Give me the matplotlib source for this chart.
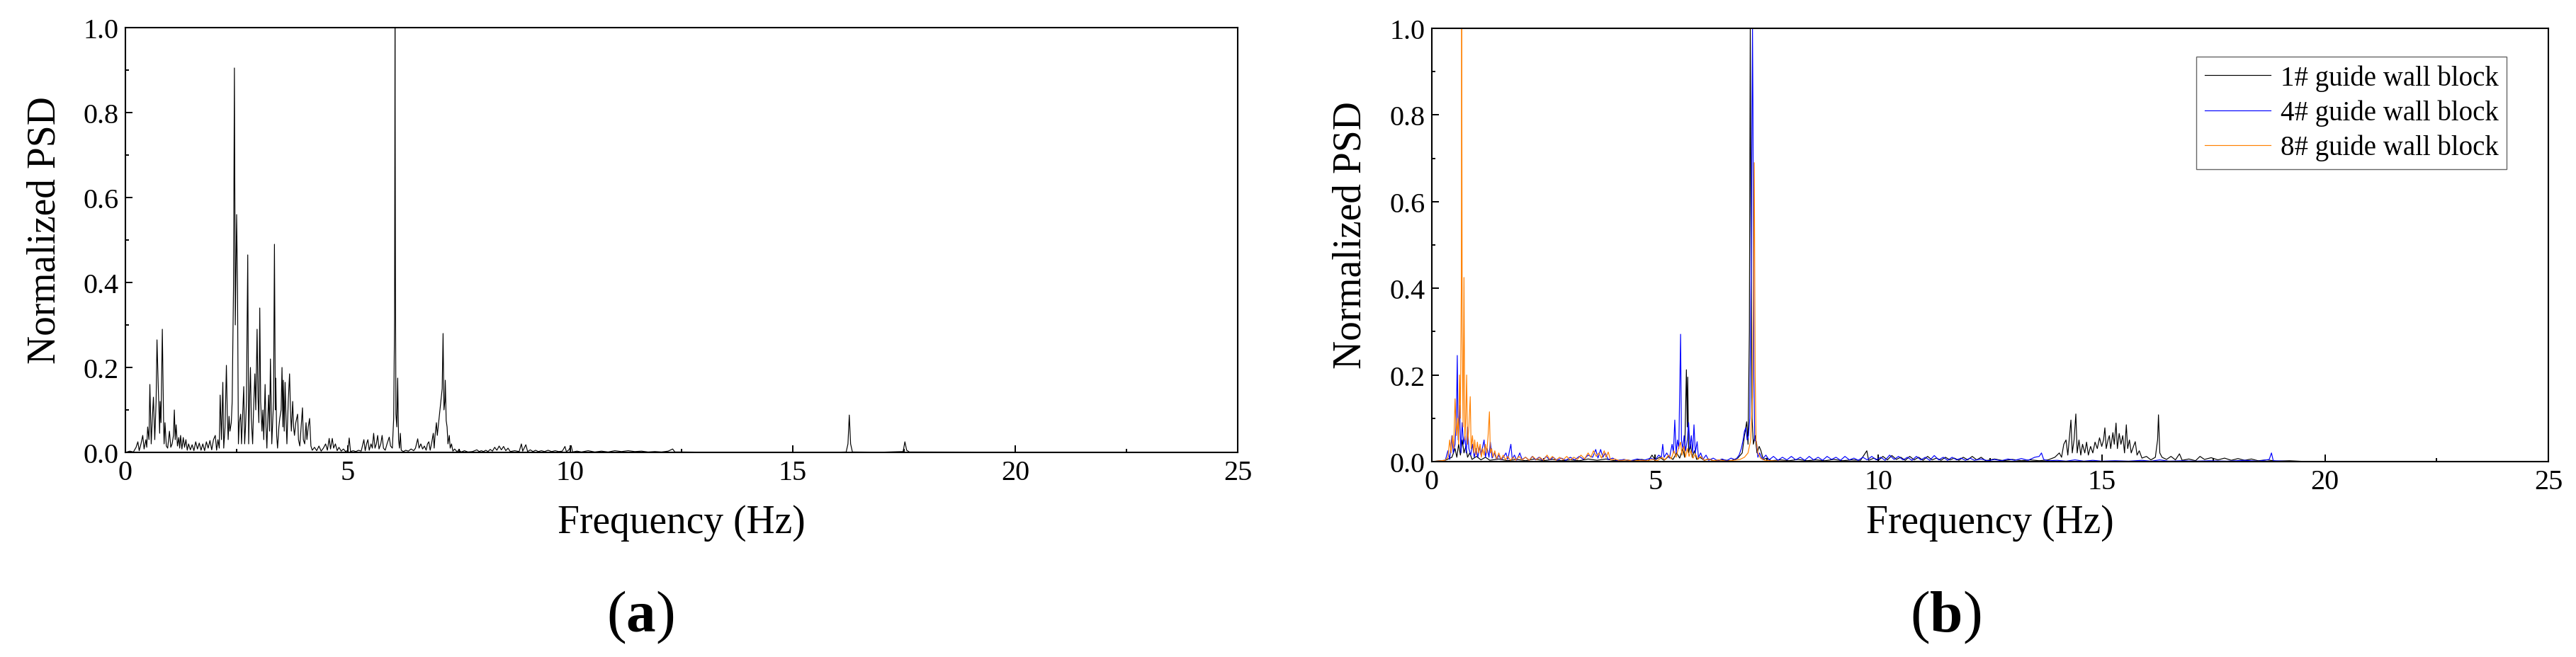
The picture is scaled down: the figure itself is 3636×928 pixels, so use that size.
import matplotlib
matplotlib.use("Agg")
import matplotlib.pyplot as plt
import numpy as np
from matplotlib.ticker import MultipleLocator

plt.rcParams["font.family"] = ["Liberation Serif", "DejaVu Serif"]
plt.rcParams["mathtext.fontset"] = "custom"
plt.rcParams["mathtext.rm"] = "Liberation Serif"
plt.rcParams["mathtext.bf"] = "Liberation Serif:bold"

# (frequency Hz, normalized PSD)
psd_a = [
    (0.00, 0.0), (0.10, 0.003), (0.18, 0.001), (0.24, 0.012), (0.28, 0.025), (0.31, 0.004), (0.35, 0.02),
    (0.39, 0.04), (0.42, 0.008), (0.46, 0.03), (0.48, 0.012), (0.50, 0.06), (0.53, 0.03), (0.55, 0.16),
    (0.58, 0.02), (0.61, 0.09), (0.63, 0.13), (0.66, 0.03), (0.69, 0.12), (0.71, 0.265), (0.74, 0.15),
    (0.77, 0.045), (0.78, 0.12), (0.80, 0.07), (0.83, 0.29), (0.86, 0.06), (0.87, 0.02), (0.89, 0.07),
    (0.92, 0.015), (0.95, 0.01), (0.97, 0.03), (0.99, 0.05), (1.02, 0.012), (1.05, 0.02), (1.08, 0.04),
    (1.10, 0.10), (1.12, 0.03), (1.14, 0.065), (1.17, 0.015), (1.20, 0.035), (1.22, 0.01), (1.24, 0.04),
    (1.27, 0.008), (1.30, 0.035), (1.33, 0.012), (1.36, 0.03), (1.39, 0.005), (1.42, 0.02), (1.46, 0.006),
    (1.50, 0.018), (1.54, 0.004), (1.58, 0.025), (1.62, 0.008), (1.66, 0.022), (1.70, 0.005), (1.74, 0.02),
    (1.78, 0.004), (1.82, 0.025), (1.86, 0.01), (1.90, 0.028), (1.94, 0.006), (1.98, 0.03), (2.02, 0.04),
    (2.05, 0.005), (2.08, 0.03), (2.11, 0.01), (2.13, 0.135), (2.16, 0.03), (2.19, 0.165), (2.21, 0.01),
    (2.24, 0.06), (2.27, 0.205), (2.29, 0.09), (2.31, 0.03), (2.33, 0.085), (2.35, 0.05), (2.38, 0.07),
    (2.40, 0.12), (2.43, 0.39), (2.45, 0.905), (2.47, 0.3), (2.50, 0.56), (2.52, 0.385), (2.54, 0.02),
    (2.56, 0.07), (2.59, 0.09), (2.61, 0.02), (2.63, 0.075), (2.66, 0.155), (2.68, 0.02), (2.70, 0.06),
    (2.72, 0.12), (2.75, 0.465), (2.77, 0.02), (2.79, 0.12), (2.81, 0.2), (2.83, 0.08), (2.86, 0.02),
    (2.88, 0.1), (2.91, 0.185), (2.93, 0.1), (2.96, 0.29), (2.98, 0.13), (3.00, 0.07), (3.02, 0.34),
    (3.04, 0.12), (3.07, 0.05), (3.09, 0.1), (3.11, 0.03), (3.14, 0.16), (3.16, 0.06), (3.18, 0.01),
    (3.20, 0.08), (3.22, 0.135), (3.24, 0.05), (3.26, 0.22), (3.29, 0.02), (3.31, 0.07), (3.33, 0.12),
    (3.35, 0.49), (3.37, 0.1), (3.38, 0.175), (3.40, 0.04), (3.42, 0.01), (3.45, 0.06), (3.47, 0.08),
    (3.50, 0.1), (3.52, 0.2), (3.54, 0.06), (3.55, 0.17), (3.57, 0.05), (3.59, 0.165), (3.61, 0.08),
    (3.63, 0.02), (3.66, 0.12), (3.69, 0.185), (3.71, 0.1), (3.73, 0.05), (3.76, 0.12), (3.78, 0.06),
    (3.80, 0.04), (3.83, 0.07), (3.87, 0.09), (3.89, 0.03), (3.92, 0.015), (3.95, 0.06), (3.98, 0.105),
    (4.00, 0.03), (4.03, 0.02), (4.06, 0.07), (4.08, 0.03), (4.11, 0.06), (4.14, 0.08), (4.17, 0.015),
    (4.20, 0.005), (4.25, 0.012), (4.30, 0.004), (4.35, 0.015), (4.40, 0.003), (4.45, 0.01), (4.50, 0.02),
    (4.54, 0.005), (4.58, 0.033), (4.61, 0.008), (4.65, 0.033), (4.68, 0.01), (4.72, 0.02), (4.76, 0.004),
    (4.80, 0.012), (4.85, 0.003), (4.90, 0.008), (4.95, 0.002), (5.00, 0.005), (5.03, 0.034), (5.06, 0.002),
    (5.12, 0.004), (5.18, 0.002), (5.24, 0.005), (5.30, 0.003), (5.36, 0.03), (5.39, 0.004), (5.42, 0.02),
    (5.45, 0.03), (5.48, 0.005), (5.52, 0.02), (5.55, 0.01), (5.58, 0.045), (5.61, 0.01), (5.64, 0.02),
    (5.67, 0.04), (5.70, 0.008), (5.74, 0.02), (5.77, 0.04), (5.80, 0.01), (5.84, 0.005), (5.88, 0.02),
    (5.93, 0.036), (5.96, 0.015), (6.00, 0.01), (6.03, 0.08), (6.05, 0.315), (6.06, 1.0), (6.07, 0.4),
    (6.08, 0.09), (6.10, 0.06), (6.12, 0.175), (6.14, 0.03), (6.16, 0.01), (6.18, 0.045), (6.20, 0.005),
    (6.25, 0.002), (6.30, 0.005), (6.36, 0.003), (6.42, 0.008), (6.48, 0.004), (6.52, 0.01), (6.57, 0.032),
    (6.60, 0.01), (6.64, 0.02), (6.68, 0.008), (6.72, 0.015), (6.76, 0.005), (6.79, 0.02), (6.82, 0.025),
    (6.85, 0.005), (6.88, 0.02), (6.92, 0.045), (6.94, 0.01), (6.96, 0.04), (6.99, 0.07), (7.01, 0.04),
    (7.03, 0.06), (7.05, 0.08), (7.07, 0.1), (7.10, 0.13), (7.12, 0.15), (7.14, 0.28), (7.16, 0.1),
    (7.18, 0.12), (7.19, 0.17), (7.21, 0.075), (7.23, 0.06), (7.25, 0.02), (7.28, 0.04), (7.30, 0.01),
    (7.33, 0.02), (7.36, 0.003), (7.40, 0.008), (7.45, 0.002), (7.50, 0.005), (7.55, 0.001), (7.62, 0.004),
    (7.70, 0.001), (7.80, 0.002), (7.90, 0.006), (7.95, 0.002), (8.00, 0.004), (8.05, 0.002), (8.10, 0.005),
    (8.15, 0.002), (8.20, 0.007), (8.25, 0.003), (8.30, 0.012), (8.35, 0.005), (8.40, 0.015), (8.45, 0.006),
    (8.50, 0.014), (8.55, 0.004), (8.60, 0.01), (8.65, 0.002), (8.75, 0.004), (8.85, 0.002), (8.90, 0.02),
    (8.93, 0.003), (9.00, 0.018), (9.04, 0.002), (9.10, 0.006), (9.16, 0.002), (9.22, 0.005), (9.28, 0.002),
    (9.35, 0.004), (9.42, 0.002), (9.50, 0.005), (9.58, 0.002), (9.66, 0.004), (9.74, 0.002), (9.82, 0.003),
    (9.88, 0.014), (9.91, 0.002), (9.96, 0.005), (10.02, 0.016), (10.05, 0.001), (10.15, 0.003),
    (10.25, 0.001), (10.40, 0.004), (10.55, 0.001), (10.70, 0.003), (10.85, 0.001), (11.00, 0.004),
    (11.15, 0.002), (11.30, 0.004), (11.45, 0.002), (11.60, 0.003), (11.75, 0.001), (11.90, 0.002),
    (12.05, 0.001), (12.20, 0.003), (12.30, 0.008), (12.35, 0.001), (12.50, 0.001), (13.00, 0.0005),
    (14.00, 0.0005), (15.00, 0.0005), (16.00, 0.0005), (16.20, 0.001), (16.24, 0.02), (16.27, 0.088),
    (16.30, 0.02), (16.34, 0.001), (17.00, 0.0005), (17.48, 0.002), (17.52, 0.025), (17.56, 0.005),
    (17.62, 0.001), (20.0, 0.0005), (25.0, 0.0005),
]

psd_block1 = [
    (0.0, 0.0), (0.3, 0.003), (0.45, 0.01), (0.52, 0.03), (0.56, 0.01), (0.6, 0.04), (0.64, 0.015),
    (0.68, 0.05), (0.72, 0.02), (0.76, 0.035), (0.8, 0.01), (0.85, 0.02), (0.9, 0.005), (1.0, 0.012),
    (1.1, 0.004), (1.2, 0.01), (1.3, 0.003), (1.5, 0.006), (1.7, 0.002), (1.9, 0.005), (2.1, 0.002),
    (2.3, 0.006), (2.5, 0.002), (2.7, 0.005), (2.9, 0.002), (3.1, 0.004), (3.3, 0.002), (3.5, 0.006),
    (3.7, 0.003), (3.9, 0.006), (4.1, 0.002), (4.3, 0.004), (4.5, 0.002), (4.7, 0.005), (4.85, 0.002),
    (4.93, 0.015), (5.0, 0.004), (5.1, 0.01), (5.2, 0.003), (5.3, 0.012), (5.4, 0.005), (5.48, 0.02),
    (5.55, 0.008), (5.62, 0.03), (5.66, 0.01), (5.70, 0.212), (5.72, 0.08), (5.73, 0.195), (5.75, 0.02),
    (5.79, 0.04), (5.83, 0.01), (5.88, 0.025), (5.93, 0.005), (6.0, 0.01), (6.1, 0.003), (6.2, 0.006),
    (6.3, 0.002), (6.5, 0.004), (6.7, 0.002), (6.85, 0.008), (6.95, 0.02), (7.0, 0.06), (7.05, 0.092),
    (7.08, 0.04), (7.11, 0.3), (7.13, 1.0), (7.15, 0.45), (7.17, 0.1), (7.2, 0.04), (7.24, 0.06),
    (7.28, 0.02), (7.33, 0.035), (7.37, 0.025), (7.42, 0.005), (7.5, 0.008), (7.6, 0.002), (7.8, 0.004),
    (8.0, 0.002), (8.2, 0.005), (8.4, 0.002), (8.6, 0.004), (8.8, 0.002), (9.0, 0.005), (9.2, 0.002),
    (9.4, 0.004), (9.6, 0.003), (9.74, 0.025), (9.78, 0.003), (9.9, 0.008), (10.0, 0.003), (10.1, 0.012),
    (10.2, 0.004), (10.3, 0.014), (10.4, 0.005), (10.5, 0.01), (10.6, 0.003), (10.7, 0.012), (10.8, 0.004),
    (10.9, 0.01), (11.0, 0.003), (11.1, 0.012), (11.2, 0.004), (11.3, 0.008), (11.4, 0.003), (11.5, 0.01),
    (11.6, 0.004), (11.7, 0.008), (11.8, 0.003), (11.9, 0.01), (12.0, 0.004), (12.1, 0.012), (12.2, 0.004),
    (12.3, 0.01), (12.4, 0.002), (12.6, 0.006), (12.8, 0.002), (13.0, 0.005), (13.2, 0.002), (13.4, 0.004),
    (13.6, 0.002), (13.8, 0.004), (13.95, 0.01), (14.05, 0.02), (14.1, 0.01), (14.15, 0.04), (14.2, 0.05),
    (14.24, 0.015), (14.28, 0.06), (14.31, 0.096), (14.34, 0.02), (14.38, 0.05), (14.42, 0.11),
    (14.45, 0.02), (14.49, 0.05), (14.53, 0.015), (14.57, 0.04), (14.62, 0.02), (14.66, 0.045),
    (14.7, 0.015), (14.75, 0.035), (14.8, 0.02), (14.85, 0.045), (14.9, 0.03), (14.95, 0.055), (15.0, 0.035),
    (15.04, 0.05), (15.07, 0.078), (15.1, 0.03), (15.14, 0.05), (15.17, 0.06), (15.2, 0.03), (15.25, 0.067),
    (15.28, 0.04), (15.32, 0.089), (15.35, 0.03), (15.39, 0.065), (15.43, 0.04), (15.47, 0.06),
    (15.51, 0.02), (15.55, 0.085), (15.58, 0.03), (15.62, 0.05), (15.66, 0.02), (15.71, 0.035),
    (15.75, 0.046), (15.79, 0.015), (15.84, 0.025), (15.9, 0.008), (16.0, 0.012), (16.1, 0.004),
    (16.2, 0.01), (16.25, 0.05), (16.27, 0.108), (16.3, 0.02), (16.35, 0.01), (16.45, 0.005), (16.55, 0.012),
    (16.65, 0.004), (16.74, 0.018), (16.8, 0.003), (16.95, 0.006), (17.1, 0.002), (17.2, 0.012),
    (17.3, 0.005), (17.45, 0.009), (17.6, 0.004), (17.75, 0.008), (17.9, 0.003), (18.05, 0.007),
    (18.2, 0.003), (18.35, 0.006), (18.5, 0.002), (18.7, 0.004), (18.9, 0.001), (19.2, 0.002),
    (19.5, 0.0005), (25.0, 0.0005),
]

psd_block4 = [
    (0.0, 0.0), (0.3, 0.002), (0.36, 0.025), (0.4, 0.005), (0.45, 0.06), (0.48, 0.02), (0.52, 0.04),
    (0.55, 0.1), (0.57, 0.245), (0.59, 0.05), (0.62, 0.13), (0.65, 0.02), (0.68, 0.09), (0.71, 0.04),
    (0.74, 0.06), (0.77, 0.02), (0.8, 0.08), (0.83, 0.03), (0.87, 0.015), (0.91, 0.04), (0.95, 0.01),
    (0.99, 0.03), (1.03, 0.01), (1.07, 0.035), (1.1, 0.015), (1.13, 0.03), (1.17, 0.05), (1.2, 0.01),
    (1.24, 0.03), (1.28, 0.01), (1.31, 0.045), (1.35, 0.008), (1.4, 0.02), (1.45, 0.005), (1.5, 0.015),
    (1.55, 0.004), (1.6, 0.01), (1.66, 0.02), (1.7, 0.005), (1.77, 0.04), (1.8, 0.006), (1.85, 0.015),
    (1.9, 0.003), (1.97, 0.02), (2.02, 0.005), (2.1, 0.01), (2.18, 0.003), (2.25, 0.012), (2.32, 0.004),
    (2.4, 0.01), (2.48, 0.003), (2.56, 0.012), (2.64, 0.004), (2.72, 0.01), (2.8, 0.003), (2.9, 0.008),
    (3.0, 0.003), (3.1, 0.01), (3.2, 0.004), (3.3, 0.012), (3.4, 0.005), (3.5, 0.015), (3.6, 0.01),
    (3.67, 0.028), (3.72, 0.008), (3.78, 0.028), (3.83, 0.01), (3.88, 0.02), (3.95, 0.005), (4.05, 0.008),
    (4.15, 0.002), (4.3, 0.005), (4.45, 0.002), (4.6, 0.006), (4.75, 0.003), (4.9, 0.008), (5.0, 0.004),
    (5.08, 0.015), (5.14, 0.01), (5.17, 0.04), (5.2, 0.01), (5.26, 0.02), (5.32, 0.008), (5.38, 0.04),
    (5.41, 0.02), (5.44, 0.096), (5.47, 0.02), (5.5, 0.05), (5.53, 0.03), (5.57, 0.294), (5.59, 0.05),
    (5.62, 0.03), (5.65, 0.06), (5.68, 0.025), (5.72, 0.05), (5.75, 0.09), (5.78, 0.03), (5.81, 0.06),
    (5.84, 0.02), (5.87, 0.085), (5.9, 0.02), (5.94, 0.046), (5.97, 0.01), (6.02, 0.02), (6.07, 0.005),
    (6.14, 0.015), (6.2, 0.003), (6.3, 0.008), (6.4, 0.002), (6.5, 0.006), (6.6, 0.002), (6.7, 0.008),
    (6.8, 0.004), (6.88, 0.015), (6.93, 0.03), (6.97, 0.05), (7.0, 0.07), (7.03, 0.078), (7.06, 0.05),
    (7.09, 0.06), (7.12, 0.1), (7.15, 0.45), (7.18, 1.0), (7.19, 0.83), (7.21, 0.2), (7.23, 0.05),
    (7.27, 0.046), (7.3, 0.01), (7.34, 0.02), (7.4, 0.005), (7.48, 0.015), (7.55, 0.004), (7.65, 0.012),
    (7.75, 0.003), (7.85, 0.01), (7.95, 0.004), (8.05, 0.012), (8.15, 0.004), (8.25, 0.01), (8.35, 0.003),
    (8.45, 0.012), (8.55, 0.004), (8.65, 0.01), (8.75, 0.003), (8.85, 0.012), (8.95, 0.005), (9.05, 0.01),
    (9.15, 0.003), (9.25, 0.012), (9.35, 0.004), (9.45, 0.008), (9.55, 0.003), (9.65, 0.01), (9.75, 0.004),
    (9.85, 0.012), (9.95, 0.004), (10.05, 0.01), (10.15, 0.003), (10.25, 0.015), (10.35, 0.005),
    (10.45, 0.012), (10.55, 0.004), (10.65, 0.01), (10.75, 0.003), (10.85, 0.012), (10.95, 0.004),
    (11.05, 0.01), (11.15, 0.003), (11.25, 0.014), (11.35, 0.004), (11.45, 0.01), (11.55, 0.003),
    (11.65, 0.01), (11.75, 0.004), (11.85, 0.008), (11.95, 0.003), (12.05, 0.008), (12.15, 0.003),
    (12.3, 0.006), (12.45, 0.002), (12.6, 0.005), (12.75, 0.002), (12.9, 0.006), (13.05, 0.003),
    (13.2, 0.007), (13.35, 0.003), (13.5, 0.01), (13.6, 0.012), (13.65, 0.02), (13.7, 0.005), (13.8, 0.002),
    (14.0, 0.003), (14.2, 0.001), (14.4, 0.004), (14.6, 0.001), (14.8, 0.003), (15.0, 0.001), (15.3, 0.002),
    (15.6, 0.001), (15.9, 0.003), (16.1, 0.001), (16.3, 0.004), (16.5, 0.001), (16.8, 0.002), (17.1, 0.001),
    (17.4, 0.002), (17.8, 0.001), (18.2, 0.003), (18.5, 0.001), (18.75, 0.005), (18.8, 0.02),
    (18.84, 0.002), (19.2, 0.0005), (25.0, 0.0005),
]

psd_block8 = [
    (0.0, 0.0), (0.3, 0.003), (0.36, 0.01), (0.4, 0.05), (0.43, 0.02), (0.46, 0.06), (0.49, 0.03),
    (0.52, 0.145), (0.55, 0.06), (0.58, 0.1), (0.6, 0.04), (0.62, 0.2), (0.64, 0.1), (0.66, 0.4),
    (0.67, 1.0), (0.68, 0.3), (0.7, 0.08), (0.72, 0.425), (0.74, 0.05), (0.76, 0.1), (0.78, 0.2),
    (0.8, 0.04), (0.83, 0.08), (0.86, 0.15), (0.88, 0.03), (0.91, 0.06), (0.94, 0.02), (0.96, 0.05),
    (0.99, 0.015), (1.02, 0.045), (1.05, 0.02), (1.08, 0.04), (1.11, 0.01), (1.14, 0.03), (1.17, 0.015),
    (1.2, 0.04), (1.23, 0.02), (1.26, 0.06), (1.29, 0.115), (1.31, 0.02), (1.34, 0.03), (1.37, 0.01),
    (1.41, 0.025), (1.45, 0.006), (1.5, 0.02), (1.55, 0.005), (1.6, 0.015), (1.65, 0.004), (1.7, 0.012),
    (1.76, 0.003), (1.82, 0.01), (1.88, 0.003), (1.95, 0.012), (2.02, 0.004), (2.1, 0.01), (2.18, 0.003),
    (2.26, 0.012), (2.34, 0.004), (2.42, 0.01), (2.5, 0.003), (2.58, 0.015), (2.64, 0.005), (2.7, 0.012),
    (2.78, 0.003), (2.86, 0.01), (2.94, 0.004), (3.02, 0.012), (3.1, 0.004), (3.18, 0.01), (3.26, 0.005),
    (3.34, 0.015), (3.42, 0.006), (3.5, 0.02), (3.56, 0.01), (3.62, 0.025), (3.68, 0.012), (3.74, 0.02),
    (3.8, 0.008), (3.86, 0.025), (3.9, 0.01), (3.95, 0.022), (4.0, 0.004), (4.1, 0.006), (4.2, 0.002),
    (4.35, 0.004), (4.5, 0.001), (4.65, 0.003), (4.8, 0.002), (4.95, 0.005), (5.05, 0.002), (5.15, 0.01),
    (5.22, 0.004), (5.3, 0.015), (5.36, 0.006), (5.42, 0.025), (5.47, 0.01), (5.52, 0.03), (5.57, 0.045),
    (5.6, 0.015), (5.64, 0.035), (5.68, 0.01), (5.72, 0.03), (5.76, 0.012), (5.8, 0.025), (5.85, 0.008),
    (5.9, 0.018), (5.96, 0.005), (6.02, 0.012), (6.1, 0.003), (6.2, 0.006), (6.3, 0.002), (6.45, 0.004),
    (6.6, 0.001), (6.75, 0.003), (6.9, 0.005), (7.0, 0.01), (7.08, 0.02), (7.14, 0.05), (7.18, 0.15),
    (7.2, 0.4), (7.22, 0.69), (7.24, 0.2), (7.26, 0.05), (7.3, 0.02), (7.36, 0.008), (7.45, 0.003),
    (7.6, 0.002), (7.8, 0.001), (8.2, 0.0005), (25.0, 0.0005),
]

series_b = [
    ("1# guide wall block", psd_block1, "black"),
    ("4# guide wall block", psd_block4, "#0000ff"),
    ("8# guide wall block", psd_block8, "#ff8000"),
]


def style_axes(ax):
    ax.set_xlim(0, 25)
    ax.set_ylim(0, 1.0)
    ax.xaxis.set_major_locator(MultipleLocator(5))
    ax.xaxis.set_minor_locator(MultipleLocator(2.5))
    ax.yaxis.set_major_locator(MultipleLocator(0.2))
    ax.yaxis.set_minor_locator(MultipleLocator(0.1))
    ax.yaxis.set_major_formatter(plt.FormatStrFormatter("%.1f"))
    ax.tick_params(which="both", direction="in", top=False, right=False,
                   width=1.4, labelsize=29, pad=7)
    ax.tick_params(which="major", length=7)
    ax.tick_params(which="minor", length=3.6)
    for sp in ax.spines.values():
        sp.set_linewidth(1.5)
    ax.set_xlabel("Frequency (Hz)", fontsize=40)
    ax.set_ylabel("Normalized PSD", fontsize=40)


fig = plt.figure(figsize=(36.37, 9.29), dpi=100)
ax_a = fig.add_axes([177 / 3637, 289 / 929, 1570 / 3637, 600 / 929])
ax_b = fig.add_axes([2021 / 3637, 276 / 929, 1576 / 3637, 612 / 929])

fa, pa = np.array(psd_a).T
ax_a.plot(fa, pa, color="black", lw=0.85)
style_axes(ax_a)
ax_a.xaxis.set_label_coords(0.5, -0.122)
ax_a.yaxis.set_label_coords(-0.056, 0.525)

for name, pts, color in series_b:
    f, p = np.array(pts).T
    ax_b.plot(f, p, color=color, lw=0.85, label=name)
style_axes(ax_b)
ax_b.xaxis.set_label_coords(0.5, -0.098)
ax_b.yaxis.set_label_coords(-0.056, 0.525)

leg = ax_b.legend(loc="upper right", bbox_to_anchor=(0.9626, 0.935), borderaxespad=0,
                  fontsize=28, handlelength=2.4, handletextpad=0.35, labelspacing=0.3,
                  borderpad=0.3, fancybox=False, framealpha=1, edgecolor="0.4")
leg.get_frame().set_linewidth(1.0)

fig.text(904 / 3637, 1 - 872 / 929, r"($\mathbf{a}$)", fontsize=60, ha="center", va="center")
fig.text(2746 / 3637, 1 - 872 / 929, r"($\mathbf{b}$)", fontsize=60, ha="center", va="center")

fig.savefig("out.png", dpi=100)
